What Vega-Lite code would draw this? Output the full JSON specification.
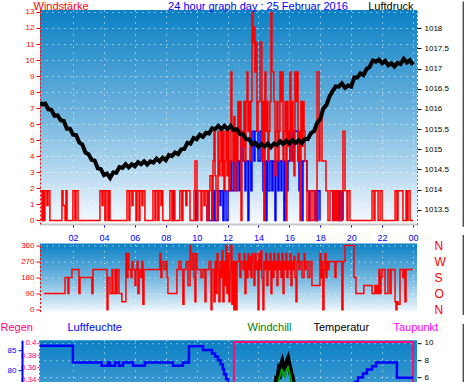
{
"$schema": "https://vega.github.io/schema/vega-lite/v6.json",
"padding": {"left": 0, "top": 0, "right": 0, "bottom": 0},
"background": "white",
"config": {
  "font": "Liberation Sans",
  "view": {"stroke": null},
  "axis": {"labelFont": "Liberation Sans", "titleFont": "Liberation Sans", "titleFontWeight": "normal", "titleFontSize": 11, "labelFontSize": 8, "gridColor": "white", "gridDash": [1, 5], "gridOpacity": 0.9, "labelFlush": false, "labelOverlap": false}
},
"datasets": {
  "edge": [{"h": 27.25}],
  "gust": [
    {"h": -0.14, "g": 1.85}, {"h": -0.01, "g": 0}, {"h": 0.05, "g": 1.85}, {"h": 0.12, "g": 0}, {"h": 0.18, "g": 1.85}, {"h": 0.31, "g": 0.93}, {"h": 0.38, "g": 1.85}, {"h": 0.5, "g": 0},
    {"h": 1.28, "g": 1.85}, {"h": 1.35, "g": 0.93}, {"h": 1.48, "g": 0}, {"h": 1.54, "g": 1.85}, {"h": 1.61, "g": 0}, {"h": 1.99, "g": 1.85}, {"h": 2.12, "g": 0}, {"h": 2.19, "g": 1.85}, {"h": 2.32, "g": 0},
    {"h": 3.74, "g": 1.85}, {"h": 3.87, "g": 0.93}, {"h": 3.94, "g": 1.85}, {"h": 4.06, "g": 0}, {"h": 4.13, "g": 1.85}, {"h": 4.26, "g": 0}, {"h": 4.32, "g": 1.85}, {"h": 4.39, "g": 0},
    {"h": 5.49, "g": 1.85}, {"h": 5.62, "g": 0}, {"h": 5.68, "g": 1.85}, {"h": 5.81, "g": 0.93}, {"h": 5.88, "g": 1.85}, {"h": 6.07, "g": 0}, {"h": 6.14, "g": 1.85}, {"h": 6.27, "g": 0}, {"h": 6.33, "g": 1.85}, {"h": 6.46, "g": 0.93}, {"h": 6.52, "g": 1.85}, {"h": 6.65, "g": 0},
    {"h": 7.17, "g": 1.85}, {"h": 7.3, "g": 0}, {"h": 7.36, "g": 1.85}, {"h": 7.49, "g": 0}, {"h": 7.56, "g": 1.85}, {"h": 7.69, "g": 0.93}, {"h": 7.75, "g": 1.85}, {"h": 7.81, "g": 0},
    {"h": 8.27, "g": 1.85}, {"h": 8.4, "g": 0}, {"h": 8.46, "g": 1.85}, {"h": 8.59, "g": 0}, {"h": 8.91, "g": 1.85}, {"h": 9.04, "g": 0}, {"h": 9.11, "g": 1.85}, {"h": 9.3, "g": 0.93}, {"h": 9.37, "g": 1.85}, {"h": 9.57, "g": 0},
    {"h": 9.83, "g": 1.85}, {"h": 9.89, "g": 3.7}, {"h": 10.02, "g": 0}, {"h": 10.08, "g": 1.85}, {"h": 10.28, "g": 0}, {"h": 10.34, "g": 1.85}, {"h": 10.47, "g": 0.93}, {"h": 10.54, "g": 1.85}, {"h": 10.67, "g": 0}, {"h": 10.74, "g": 1.85},
    {"h": 10.86, "g": 2.78}, {"h": 10.99, "g": 0}, {"h": 11.06, "g": 3.7}, {"h": 11.12, "g": 5.56}, {"h": 11.19, "g": 2.78}, {"h": 11.25, "g": 1.85}, {"h": 11.32, "g": 0}, {"h": 11.38, "g": 5.56}, {"h": 11.44, "g": 2.78}, {"h": 11.51, "g": 3.7},
    {"h": 11.57, "g": 5.56}, {"h": 11.64, "g": 2.78}, {"h": 11.7, "g": 5.56}, {"h": 11.77, "g": 1.85}, {"h": 11.83, "g": 3.7}, {"h": 11.9, "g": 5.56}, {"h": 11.96, "g": 2.78}, {"h": 12.03, "g": 5.56}, {"h": 12.09, "g": 1.85}, {"h": 12.16, "g": 3.7},
    {"h": 12.22, "g": 9.26}, {"h": 12.28, "g": 5.56}, {"h": 12.35, "g": 3.7}, {"h": 12.41, "g": 6.48}, {"h": 12.48, "g": 1.85}, {"h": 12.54, "g": 5.56}, {"h": 12.61, "g": 3.7}, {"h": 12.67, "g": 7.41}, {"h": 12.74, "g": 5.56}, {"h": 12.8, "g": 7.41},
    {"h": 12.87, "g": 0}, {"h": 12.93, "g": 5.56}, {"h": 13.0, "g": 4.63}, {"h": 13.06, "g": 7.41}, {"h": 13.13, "g": 3.7}, {"h": 13.19, "g": 7.41}, {"h": 13.26, "g": 9.26}, {"h": 13.32, "g": 5.56}, {"h": 13.38, "g": 7.41}, {"h": 13.45, "g": 3.7},
    {"h": 13.51, "g": 7.41}, {"h": 13.58, "g": 12.96}, {"h": 13.64, "g": 11.11}, {"h": 13.71, "g": 12.04}, {"h": 13.77, "g": 9.26}, {"h": 13.84, "g": 11.11}, {"h": 13.9, "g": 5.56}, {"h": 13.97, "g": 7.41}, {"h": 14.03, "g": 7.41}, {"h": 14.1, "g": 11.11},
    {"h": 14.22, "g": 3.7}, {"h": 14.29, "g": 7.41}, {"h": 14.35, "g": 0}, {"h": 14.42, "g": 9.26}, {"h": 14.48, "g": 5.56}, {"h": 14.55, "g": 7.41}, {"h": 14.61, "g": 3.7}, {"h": 14.68, "g": 5.56}, {"h": 14.74, "g": 7.41}, {"h": 14.81, "g": 12.96},
    {"h": 14.87, "g": 9.26}, {"h": 15.0, "g": 7.41}, {"h": 15.07, "g": 2.78}, {"h": 15.13, "g": 5.56}, {"h": 15.2, "g": 7.41}, {"h": 15.26, "g": 3.7}, {"h": 15.33, "g": 5.56}, {"h": 15.39, "g": 9.26}, {"h": 15.46, "g": 7.41}, {"h": 15.52, "g": 9.26},
    {"h": 15.59, "g": 3.7}, {"h": 15.65, "g": 5.56}, {"h": 15.72, "g": 7.41}, {"h": 15.78, "g": 0}, {"h": 15.84, "g": 7.41}, {"h": 15.91, "g": 4.63}, {"h": 15.97, "g": 5.56}, {"h": 16.04, "g": 9.26}, {"h": 16.1, "g": 3.7}, {"h": 16.17, "g": 7.41},
    {"h": 16.23, "g": 5.56}, {"h": 16.3, "g": 2.78}, {"h": 16.36, "g": 9.26}, {"h": 16.43, "g": 7.41}, {"h": 16.49, "g": 9.26}, {"h": 16.56, "g": 3.7}, {"h": 16.62, "g": 5.56}, {"h": 16.69, "g": 0}, {"h": 16.75, "g": 7.41}, {"h": 16.82, "g": 4.63},
    {"h": 16.88, "g": 7.41}, {"h": 16.95, "g": 5.56}, {"h": 17.01, "g": 3.7}, {"h": 17.14, "g": 0}, {"h": 17.27, "g": 1.85}, {"h": 17.4, "g": 0}, {"h": 17.53, "g": 1.85}, {"h": 17.66, "g": 0}, {"h": 17.79, "g": 9.26}, {"h": 17.92, "g": 3.7},
    {"h": 17.98, "g": 6.48}, {"h": 18.11, "g": 3.7}, {"h": 18.37, "g": 1.85}, {"h": 18.5, "g": 0}, {"h": 18.63, "g": 1.85}, {"h": 18.82, "g": 0}, {"h": 18.89, "g": 1.85}, {"h": 18.95, "g": 0}, {"h": 19.02, "g": 1.85}, {"h": 19.08, "g": 0},
    {"h": 19.15, "g": 1.85}, {"h": 19.28, "g": 0}, {"h": 19.4, "g": 1.85}, {"h": 19.47, "g": 5.56}, {"h": 19.6, "g": 1.85}, {"h": 19.73, "g": 0}, {"h": 19.79, "g": 1.85}, {"h": 19.92, "g": 0},
    {"h": 21.35, "g": 1.85}, {"h": 21.48, "g": 0}, {"h": 21.54, "g": 1.85}, {"h": 21.74, "g": 0}, {"h": 21.87, "g": 1.85}, {"h": 22.0, "g": 0}, {"h": 22.84, "g": 1.85}, {"h": 22.96, "g": 0}, {"h": 23.03, "g": 1.85}, {"h": 23.35, "g": 0},
    {"h": 23.55, "g": 1.85}, {"h": 23.62, "g": 0}, {"h": 23.68, "g": 1.85}, {"h": 23.81, "g": 0}, {"h": 24.0, "g": 0}
  ],
  "mean": [
    {"s": 1, "h": -0.02, "m": 0}, {"s": 1, "h": 0.05, "m": 1.85}, {"s": 1, "h": 0.12, "m": 0},
    {"s": 2, "h": 8.4, "m": 0}, {"s": 2, "h": 8.46, "m": 1.85}, {"s": 2, "h": 8.53, "m": 0},
    {"s": 3, "h": 9.89, "m": 0}, {"s": 3, "h": 9.95, "m": 1.85}, {"s": 3, "h": 10.02, "m": 0},
    {"s": 4, "h": 10.6, "m": 0}, {"s": 4, "h": 10.67, "m": 0.93}, {"s": 4, "h": 10.74, "m": 1.85}, {"s": 4, "h": 10.8, "m": 0},
    {"s": 4, "h": 10.99, "m": 1.85}, {"s": 4, "h": 11.06, "m": 0}, {"s": 4, "h": 11.12, "m": 1.85}, {"s": 4, "h": 11.19, "m": 0}, {"s": 4, "h": 11.38, "m": 1.85}, {"s": 4, "h": 11.51, "m": 0.93}, {"s": 4, "h": 11.57, "m": 1.85}, {"s": 4, "h": 11.7, "m": 0}, {"s": 4, "h": 11.77, "m": 1.85}, {"s": 4, "h": 11.9, "m": 0},
    {"s": 4, "h": 12.03, "m": 1.85}, {"s": 4, "h": 12.22, "m": 3.7}, {"s": 4, "h": 12.28, "m": 1.85}, {"s": 4, "h": 12.41, "m": 3.7}, {"s": 4, "h": 12.54, "m": 1.85}, {"s": 4, "h": 12.61, "m": 3.7}, {"s": 4, "h": 12.74, "m": 1.85}, {"s": 4, "h": 12.8, "m": 3.7}, {"s": 4, "h": 12.87, "m": 5.56}, {"s": 4, "h": 13.0, "m": 3.7},
    {"s": 4, "h": 13.13, "m": 1.85}, {"s": 4, "h": 13.19, "m": 3.7}, {"s": 4, "h": 13.32, "m": 0}, {"s": 4, "h": 13.38, "m": 3.7}, {"s": 4, "h": 13.51, "m": 1.85}, {"s": 4, "h": 13.58, "m": 5.56}, {"s": 4, "h": 13.71, "m": 3.7}, {"s": 4, "h": 13.77, "m": 5.56}, {"s": 4, "h": 13.97, "m": 3.7}, {"s": 4, "h": 14.1, "m": 5.56},
    {"s": 4, "h": 14.22, "m": 3.7}, {"s": 4, "h": 14.29, "m": 1.85}, {"s": 4, "h": 14.42, "m": 3.7}, {"s": 4, "h": 14.48, "m": 0}, {"s": 4, "h": 14.55, "m": 3.7}, {"s": 4, "h": 14.61, "m": 1.85}, {"s": 4, "h": 14.74, "m": 3.7}, {"s": 4, "h": 14.87, "m": 1.85}, {"s": 4, "h": 14.94, "m": 3.7}, {"s": 4, "h": 15.07, "m": 0},
    {"s": 4, "h": 15.13, "m": 3.7}, {"s": 4, "h": 15.26, "m": 1.85}, {"s": 4, "h": 15.33, "m": 3.7}, {"s": 4, "h": 15.46, "m": 1.85}, {"s": 4, "h": 15.52, "m": 3.7}, {"s": 4, "h": 15.65, "m": 0}, {"s": 4, "h": 15.72, "m": 3.7}, {"s": 4, "h": 15.84, "m": 1.85}, {"s": 4, "h": 15.91, "m": 3.7}, {"s": 4, "h": 16.04, "m": 5.56},
    {"s": 4, "h": 16.23, "m": 3.7}, {"s": 4, "h": 16.3, "m": 5.56}, {"s": 4, "h": 16.56, "m": 3.7}, {"s": 4, "h": 16.62, "m": 1.85}, {"s": 4, "h": 16.69, "m": 3.7}, {"s": 4, "h": 16.82, "m": 0}, {"s": 4, "h": 16.88, "m": 3.7}, {"s": 4, "h": 17.14, "m": 1.85}, {"s": 4, "h": 17.27, "m": 0}, {"s": 4, "h": 17.33, "m": 1.85},
    {"s": 4, "h": 17.66, "m": 0}, {"s": 4, "h": 17.72, "m": 1.85}, {"s": 4, "h": 17.79, "m": 0}, {"s": 4, "h": 17.85, "m": 1.85}, {"s": 4, "h": 17.98, "m": 0},
    {"s": 5, "h": 18.76, "m": 0}, {"s": 5, "h": 18.82, "m": 1.85}, {"s": 5, "h": 18.89, "m": 0},
    {"s": 6, "h": 19.15, "m": 0}, {"s": 6, "h": 19.21, "m": 1.85}, {"s": 6, "h": 19.28, "m": 0}, {"s": 6, "h": 19.4, "m": 1.85}, {"s": 6, "h": 19.47, "m": 0}
  ],
  "press": [
    {"h": -0.14, "p": 1016.16}, {"h": 0.0, "p": 1016.11}, {"h": 0.2, "p": 1016.13}, {"h": 0.4, "p": 1015.99}, {"h": 0.6, "p": 1015.98}, {"h": 0.8, "p": 1015.83}, {"h": 1.0, "p": 1015.84}, {"h": 1.2, "p": 1015.72}, {"h": 1.4, "p": 1015.7}, {"h": 1.6, "p": 1015.51},
    {"h": 1.8, "p": 1015.51}, {"h": 2.0, "p": 1015.36}, {"h": 2.2, "p": 1015.35}, {"h": 2.4, "p": 1015.17}, {"h": 2.6, "p": 1015.12}, {"h": 2.8, "p": 1014.92}, {"h": 3.0, "p": 1014.88}, {"h": 3.2, "p": 1014.74}, {"h": 3.4, "p": 1014.72}, {"h": 3.6, "p": 1014.53},
    {"h": 3.8, "p": 1014.51}, {"h": 4.0, "p": 1014.36}, {"h": 4.2, "p": 1014.4}, {"h": 4.4, "p": 1014.29}, {"h": 4.6, "p": 1014.43}, {"h": 4.8, "p": 1014.42}, {"h": 5.0, "p": 1014.56}, {"h": 5.2, "p": 1014.54}, {"h": 5.4, "p": 1014.63}, {"h": 5.6, "p": 1014.55},
    {"h": 5.8, "p": 1014.63}, {"h": 6.0, "p": 1014.58}, {"h": 6.2, "p": 1014.68}, {"h": 6.4, "p": 1014.63}, {"h": 6.6, "p": 1014.7}, {"h": 6.8, "p": 1014.62}, {"h": 7.0, "p": 1014.7}, {"h": 7.2, "p": 1014.67}, {"h": 7.4, "p": 1014.77}, {"h": 7.6, "p": 1014.7},
    {"h": 7.8, "p": 1014.79}, {"h": 8.0, "p": 1014.73}, {"h": 8.2, "p": 1014.86}, {"h": 8.4, "p": 1014.83}, {"h": 8.6, "p": 1014.92}, {"h": 8.8, "p": 1014.88}, {"h": 9.0, "p": 1015.0}, {"h": 9.2, "p": 1015.01}, {"h": 9.4, "p": 1015.16}, {"h": 9.6, "p": 1015.14},
    {"h": 9.8, "p": 1015.28}, {"h": 10.0, "p": 1015.25}, {"h": 10.2, "p": 1015.36}, {"h": 10.4, "p": 1015.31}, {"h": 10.6, "p": 1015.41}, {"h": 10.8, "p": 1015.39}, {"h": 11.0, "p": 1015.52}, {"h": 11.2, "p": 1015.5}, {"h": 11.4, "p": 1015.58}, {"h": 11.6, "p": 1015.5},
    {"h": 11.8, "p": 1015.58}, {"h": 12.0, "p": 1015.5}, {"h": 12.2, "p": 1015.58}, {"h": 12.4, "p": 1015.48}, {"h": 12.6, "p": 1015.5}, {"h": 12.8, "p": 1015.38}, {"h": 13.0, "p": 1015.37}, {"h": 13.2, "p": 1015.25}, {"h": 13.4, "p": 1015.25}, {"h": 13.6, "p": 1015.12},
    {"h": 13.8, "p": 1015.16}, {"h": 14.0, "p": 1015.06}, {"h": 14.2, "p": 1015.13}, {"h": 14.4, "p": 1015.07}, {"h": 14.6, "p": 1015.14}, {"h": 14.8, "p": 1015.05}, {"h": 15.0, "p": 1015.14}, {"h": 15.2, "p": 1015.11}, {"h": 15.4, "p": 1015.2}, {"h": 15.6, "p": 1015.13},
    {"h": 15.8, "p": 1015.21}, {"h": 16.0, "p": 1015.14}, {"h": 16.2, "p": 1015.23}, {"h": 16.4, "p": 1015.16}, {"h": 16.6, "p": 1015.22}, {"h": 16.8, "p": 1015.15}, {"h": 17.0, "p": 1015.26}, {"h": 17.2, "p": 1015.25}, {"h": 17.4, "p": 1015.4}, {"h": 17.6, "p": 1015.45},
    {"h": 17.8, "p": 1015.66}, {"h": 18.0, "p": 1015.75}, {"h": 18.2, "p": 1016.01}, {"h": 18.4, "p": 1016.1}, {"h": 18.6, "p": 1016.31}, {"h": 18.8, "p": 1016.44}, {"h": 19.0, "p": 1016.56}, {"h": 19.2, "p": 1016.55}, {"h": 19.4, "p": 1016.63}, {"h": 19.6, "p": 1016.52},
    {"h": 19.8, "p": 1016.58}, {"h": 20.0, "p": 1016.55}, {"h": 20.2, "p": 1016.78}, {"h": 20.4, "p": 1016.78}, {"h": 20.6, "p": 1016.88}, {"h": 20.8, "p": 1016.84}, {"h": 21.0, "p": 1016.99}, {"h": 21.2, "p": 1017.04}, {"h": 21.4, "p": 1017.2}, {"h": 21.6, "p": 1017.17},
    {"h": 21.8, "p": 1017.22}, {"h": 22.0, "p": 1017.13}, {"h": 22.2, "p": 1017.19}, {"h": 22.4, "p": 1017.08}, {"h": 22.6, "p": 1017.13}, {"h": 22.8, "p": 1017.05}, {"h": 23.0, "p": 1017.14}, {"h": 23.2, "p": 1017.11}, {"h": 23.4, "p": 1017.24}, {"h": 23.6, "p": 1017.15},
    {"h": 23.8, "p": 1017.21}, {"h": 24.0, "p": 1017.09}
  ],
  "dir": [
    {"h": 0.12, "d": 90}, {"h": 1.48, "d": 180}, {"h": 1.67, "d": 90}, {"h": 1.73, "d": 180}, {"h": 1.93, "d": 225}, {"h": 2.38, "d": 90}, {"h": 2.45, "d": 180}, {"h": 3.22, "d": 90}, {"h": 3.29, "d": 225}, {"h": 4.2, "d": 0},
    {"h": 4.26, "d": 180}, {"h": 4.39, "d": 90}, {"h": 4.52, "d": 225}, {"h": 4.58, "d": 90}, {"h": 4.72, "d": 225}, {"h": 4.78, "d": 90}, {"h": 4.85, "d": 225}, {"h": 4.97, "d": 90}, {"h": 5.16, "d": 45}, {"h": 5.42, "d": 315},
    {"h": 5.49, "d": 180}, {"h": 5.55, "d": 315}, {"h": 5.62, "d": 225}, {"h": 5.75, "d": 180}, {"h": 5.81, "d": 270}, {"h": 5.88, "d": 225}, {"h": 6.01, "d": 135}, {"h": 6.07, "d": 225}, {"h": 6.14, "d": 270}, {"h": 6.2, "d": 90},
    {"h": 6.27, "d": 225}, {"h": 6.39, "d": 180}, {"h": 6.46, "d": 270}, {"h": 6.52, "d": 30}, {"h": 6.59, "d": 225}, {"h": 7.62, "d": 315}, {"h": 7.69, "d": 180}, {"h": 7.75, "d": 270}, {"h": 7.88, "d": 225}, {"h": 8.01, "d": 270},
    {"h": 8.08, "d": 180}, {"h": 8.14, "d": 90}, {"h": 8.72, "d": 225}, {"h": 8.85, "d": 270}, {"h": 8.98, "d": 225}, {"h": 9.11, "d": 30}, {"h": 9.18, "d": 225}, {"h": 9.31, "d": 270}, {"h": 9.44, "d": 135}, {"h": 9.57, "d": 360},
    {"h": 9.63, "d": 225}, {"h": 9.76, "d": 315}, {"h": 9.83, "d": 180}, {"h": 9.89, "d": 45}, {"h": 9.95, "d": 315}, {"h": 10.02, "d": 225}, {"h": 10.28, "d": 180}, {"h": 10.41, "d": 225}, {"h": 10.54, "d": 45}, {"h": 10.6, "d": 225},
    {"h": 10.8, "d": 270}, {"h": 10.93, "d": 0}, {"h": 10.99, "d": 225}, {"h": 11.12, "d": 45}, {"h": 11.19, "d": 270}, {"h": 11.25, "d": 90}, {"h": 11.32, "d": 315}, {"h": 11.38, "d": 225}, {"h": 11.44, "d": 45}, {"h": 11.51, "d": 270},
    {"h": 11.57, "d": 180}, {"h": 11.64, "d": 330}, {"h": 11.7, "d": 45}, {"h": 11.77, "d": 270}, {"h": 11.83, "d": 135}, {"h": 11.9, "d": 360}, {"h": 11.96, "d": 90}, {"h": 12.03, "d": 315}, {"h": 12.09, "d": 45}, {"h": 12.16, "d": 225},
    {"h": 12.22, "d": 360}, {"h": 12.28, "d": 30}, {"h": 12.35, "d": 270}, {"h": 12.41, "d": 0}, {"h": 12.48, "d": 270}, {"h": 12.54, "d": 0}, {"h": 12.61, "d": 270}, {"h": 12.74, "d": 315}, {"h": 12.8, "d": 180}, {"h": 12.87, "d": 270},
    {"h": 13.0, "d": 225}, {"h": 13.06, "d": 315}, {"h": 13.13, "d": 90}, {"h": 13.19, "d": 270}, {"h": 13.26, "d": 180}, {"h": 13.32, "d": 315}, {"h": 13.38, "d": 225}, {"h": 13.45, "d": 300}, {"h": 13.51, "d": 180}, {"h": 13.58, "d": 315},
    {"h": 13.64, "d": 270}, {"h": 13.71, "d": 135}, {"h": 13.77, "d": 315}, {"h": 13.84, "d": 225}, {"h": 13.9, "d": 270}, {"h": 13.97, "d": 0}, {"h": 14.03, "d": 315}, {"h": 14.1, "d": 225}, {"h": 14.16, "d": 330}, {"h": 14.22, "d": 180},
    {"h": 14.29, "d": 0}, {"h": 14.35, "d": 270}, {"h": 14.42, "d": 225}, {"h": 14.48, "d": 315}, {"h": 14.55, "d": 135}, {"h": 14.61, "d": 270}, {"h": 14.68, "d": 225}, {"h": 14.74, "d": 315}, {"h": 14.81, "d": 90}, {"h": 14.87, "d": 270},
    {"h": 14.94, "d": 180}, {"h": 15.0, "d": 315}, {"h": 15.07, "d": 225}, {"h": 15.13, "d": 270}, {"h": 15.2, "d": 135}, {"h": 15.26, "d": 315}, {"h": 15.33, "d": 225}, {"h": 15.39, "d": 270}, {"h": 15.46, "d": 180}, {"h": 15.52, "d": 315},
    {"h": 15.59, "d": 90}, {"h": 15.65, "d": 270}, {"h": 15.72, "d": 225}, {"h": 15.78, "d": 315}, {"h": 15.84, "d": 180}, {"h": 15.91, "d": 270}, {"h": 15.97, "d": 225}, {"h": 16.04, "d": 315}, {"h": 16.1, "d": 135}, {"h": 16.17, "d": 270},
    {"h": 16.23, "d": 225}, {"h": 16.3, "d": 300}, {"h": 16.36, "d": 180}, {"h": 16.43, "d": 45}, {"h": 16.49, "d": 270}, {"h": 16.56, "d": 315}, {"h": 16.62, "d": 225}, {"h": 16.69, "d": 270}, {"h": 16.82, "d": 180}, {"h": 16.95, "d": 315},
    {"h": 17.01, "d": 225}, {"h": 17.08, "d": 270}, {"h": 17.2, "d": 180}, {"h": 17.33, "d": 270}, {"h": 17.46, "d": 135}, {"h": 17.98, "d": 315}, {"h": 18.05, "d": 180}, {"h": 18.11, "d": 270}, {"h": 18.17, "d": 0}, {"h": 18.24, "d": 225},
    {"h": 18.3, "d": 315}, {"h": 18.37, "d": 180}, {"h": 18.43, "d": 270}, {"h": 18.5, "d": 225}, {"h": 18.56, "d": 270}, {"h": 18.95, "d": 180}, {"h": 19.02, "d": 270}, {"h": 19.4, "d": 0}, {"h": 19.47, "d": 270}, {"h": 19.6, "d": 360},
    {"h": 20.18, "d": 180}, {"h": 20.31, "d": 90}, {"h": 20.82, "d": 135}, {"h": 21.35, "d": 90}, {"h": 21.54, "d": 135}, {"h": 21.61, "d": 90}, {"h": 21.68, "d": 135}, {"h": 21.74, "d": 90}, {"h": 21.8, "d": 225}, {"h": 21.87, "d": 90},
    {"h": 21.93, "d": 180}, {"h": 22.0, "d": 225}, {"h": 22.19, "d": 90}, {"h": 22.38, "d": 225}, {"h": 22.51, "d": 90}, {"h": 22.58, "d": 225}, {"h": 22.84, "d": 45}, {"h": 22.9, "d": 0}, {"h": 22.96, "d": 45}, {"h": 23.03, "d": 30},
    {"h": 23.16, "d": 225}, {"h": 23.35, "d": 180}, {"h": 23.42, "d": 225}, {"h": 23.48, "d": 45}, {"h": 23.55, "d": 225}, {"h": 24.0, "d": 225}
  ],
  "hum": [
    {"h": -0.14, "rh": 86.1}, {"h": 1.99, "rh": 81.9}, {"h": 3.85, "rh": 81.1}, {"h": 4.26, "rh": 81.9}, {"h": 4.39, "rh": 81.1}, {"h": 4.72, "rh": 81.9}, {"h": 4.97, "rh": 81.1}, {"h": 5.23, "rh": 81.9}, {"h": 5.88, "rh": 81.1}, {"h": 6.65, "rh": 81.9},
    {"h": 8.46, "rh": 81.1}, {"h": 9.11, "rh": 81.9}, {"h": 9.5, "rh": 86.0}, {"h": 10.41, "rh": 85.05}, {"h": 10.99, "rh": 84.2}, {"h": 11.19, "rh": 83.4}, {"h": 11.38, "rh": 82.5}, {"h": 11.55, "rh": 81.5}, {"h": 11.68, "rh": 80.3}, {"h": 11.77, "rh": 79.0},
    {"h": 11.9, "rh": 77.8}, {"h": 12.03, "rh": 70}, {"h": 20.25, "rh": 77.1}, {"h": 20.44, "rh": 78.2}, {"h": 20.76, "rh": 79.2}, {"h": 21.02, "rh": 80.2}, {"h": 21.35, "rh": 81.0}, {"h": 21.61, "rh": 81.9}, {"h": 22.96, "rh": 78.1}, {"h": 24.0, "rh": 78.1}
  ],
  "rain": [
    {"h": -0.14, "r": 0.3}, {"h": 12.41, "r": 0.4015}, {"h": 24.0, "r": 0.3}
  ],
  "temp": [
    {"h": 14.9, "t": 4.8, "wc": 4.2}, {"h": 15.13, "t": 5.2, "wc": 4.6}, {"h": 15.2, "t": 6.2, "wc": 5.2}, {"h": 15.26, "t": 5.8, "wc": 5.3}, {"h": 15.33, "t": 6.8, "wc": 5.9}, {"h": 15.39, "t": 6.6, "wc": 6.2}, {"h": 15.46, "t": 7.4, "wc": 6.6}, {"h": 15.52, "t": 7.7, "wc": 7.0},
    {"h": 15.59, "t": 7.0, "wc": 6.4}, {"h": 15.65, "t": 7.2, "wc": 6.3}, {"h": 15.72, "t": 6.8, "wc": 6.1}, {"h": 15.78, "t": 7.5, "wc": 6.7}, {"h": 15.84, "t": 7.8, "wc": 7.0}, {"h": 15.91, "t": 8.1, "wc": 7.2}, {"h": 15.97, "t": 7.5, "wc": 6.8},
    {"h": 16.04, "t": 7.1, "wc": 6.3}, {"h": 16.1, "t": 6.4, "wc": 5.8}, {"h": 16.17, "t": 6.2, "wc": 5.3}, {"h": 16.23, "t": 5.5, "wc": 4.9}, {"h": 16.36, "t": 5.0, "wc": 4.3}, {"h": 16.6, "t": 4.6, "wc": 4.0}
  ]
},
"spacing": 4.6,
"vconcat": [
  {
    "width": 377, "height": 214,
    "view": {"fill": {"gradient": "linear", "x1": 0, "y1": 0, "x2": 0, "y2": 1, "stops": [{"offset": 0, "color": "#0b80c4"}, {"offset": 0.5, "color": "#72b6df"}, {"offset": 1, "color": "#f8fbff"}]}},
    "resolve": {"scale": {"y": "independent"}},
    "encoding": {
      "x": {"field": "h", "type": "quantitative", "scale": {"domain": [-0.14, 24.26], "nice": false, "zero": false},
        "axis": {"orient": "bottom", "values": [2, 4, 6, 8, 10, 12, 14, 16, 18, 20, 22, 24], "labels": false, "ticks": true, "tickColor": "#0000ff", "tickSize": 3, "domainColor": "#c8c8c8", "domainWidth": 2, "grid": true,
          "title": "24 hour graph day : 25 Februar 2016", "titleColor": "#0000ff", "titleAngle": 0, "titleAlign": "center", "titleBaseline": "alphabetic", "titleX": 217.5, "titleY": -214.5}}
    },
    "layer": [
      {"data": {"name": "mean"}, "mark": {"type": "line", "interpolate": "step-after", "color": "#0000ff", "strokeWidth": 1.5, "clip": true},
        "encoding": {"detail": {"field": "s", "type": "nominal"}, "y": {"field": "m", "type": "quantitative", "scale": {"domain": [-0.22, 13.12], "nice": false, "zero": false}, "axis": null}}},
      {"data": {"name": "gust"}, "mark": {"type": "line", "interpolate": "step-after", "color": "#ff0000", "strokeWidth": 1.5, "clip": true},
        "encoding": {"y": {"field": "g", "type": "quantitative", "scale": {"domain": [-0.22, 13.12], "nice": false, "zero": false},
          "axis": {"orient": "left", "values": [0, 1, 2, 3, 4, 5, 6, 7, 8, 9, 10, 11, 12, 13], "labelColor": "#ff0000", "tickColor": "#ff0000", "domainColor": "#ff0000", "domainDash": [2, 2], "tickSize": 4, "labelPadding": 2, "grid": true,
            "title": "Windstärke", "titleColor": "#ff0000", "titleAngle": 0, "titleAlign": "left", "titleBaseline": "alphabetic", "titleX": -7, "titleY": -0.5}}}},
      {"data": {"name": "press"}, "mark": {"type": "line", "color": "#000000", "strokeWidth": 4, "clip": true},
        "encoding": {"y": {"field": "p", "type": "quantitative", "scale": {"domain": [1013.15, 1018.45], "nice": false, "zero": false},
          "axis": {"orient": "right", "values": [1013.5, 1014, 1014.5, 1015, 1015.5, 1016, 1016.5, 1017, 1017.5, 1018], "format": ".1~f", "labelColor": "#000000", "tickColor": "#000000", "tickSize": 4, "labelPadding": 3, "domainColor": "#000000", "domainDash": [1, 3], "grid": false,
            "title": "Luftdruck", "titleColor": "#000000", "titleAngle": 0, "titleAlign": "right", "titleBaseline": "alphabetic", "titleX": -4, "titleY": -0.5}}}},
      {"data": {"name": "edge"}, "mark": {"type": "rule", "color": "#000000", "strokeWidth": 1},
        "encoding": {"y": {"datum": 1018.66, "type": "quantitative", "scale": {"domain": [1013.15, 1018.45], "nice": false, "zero": false}, "axis": null}, "y2": {"datum": 1013.08}}}
    ]
  },
  {
    "width": 377, "height": 68,
    "view": {"fill": {"gradient": "linear", "x1": 0, "y1": 0, "x2": 0, "y2": 1, "stops": [{"offset": 0, "color": "#0b80c4"}, {"offset": 0.5, "color": "#72b6df"}, {"offset": 1, "color": "#f0f7fc"}]}},
    "resolve": {"scale": {"y": "independent"}},
    "encoding": {
      "x": {"field": "h", "type": "quantitative", "scale": {"domain": [-0.14, 24.26], "nice": false, "zero": false},
        "axis": {"orient": "top", "values": [2, 4, 6, 8, 10, 12, 14, 16, 18, 20, 22, 24], "labelExpr": "datum.value == 24 ? '00' : (datum.value < 10 ? '0' + datum.value : '' + datum.value)", "labelColor": "#0000ff", "labelFontSize": 9, "ticks": false, "domain": false, "labelPadding": 1.4, "grid": true, "title": null}}
    },
    "layer": [
      {"data": {"name": "dir"}, "mark": {"type": "line", "interpolate": "step-after", "color": "#ff0000", "strokeWidth": 1.5, "clip": true},
        "encoding": {"y": {"field": "d", "type": "quantitative", "scale": {"domain": [-11, 371], "nice": false, "zero": false},
          "axis": {"orient": "left", "values": [0, 90, 180, 270, 360], "labelColor": "#ff0000", "tickColor": "#ff0000", "domainColor": "#ff0000", "domainDash": [2, 2], "tickSize": 4, "labelPadding": 2, "grid": true, "title": null}}}},
      {"data": {"name": "dir"}, "mark": {"type": "line", "opacity": 0},
        "encoding": {"y": {"field": "d", "type": "quantitative", "scale": {"domain": [-11, 371], "nice": false, "zero": false},
          "axis": {"orient": "right", "values": [0, 90, 180, 270, 360], "labelExpr": "datum.value == 360 || datum.value == 0 ? 'N' : datum.value == 270 ? 'W' : datum.value == 180 ? 'S' : 'O'", "labelColor": "#ff0000", "labelFontSize": 12, "ticks": false, "domain": false, "labelPadding": 17, "grid": false, "title": null}}}},
      {"data": {"name": "edge"}, "mark": {"type": "rule", "color": "#000000", "strokeWidth": 1},
        "encoding": {"y": {"datum": 420, "type": "quantitative", "scale": {"domain": [-11, 371], "nice": false, "zero": false}, "axis": null}, "y2": {"datum": -30}}}
    ]
  },
  {
    "width": 377, "height": 42,
    "view": {"fill": {"gradient": "linear", "x1": 0, "y1": 0, "x2": 0, "y2": 1, "stops": [{"offset": 0, "color": "#0b80c4"}, {"offset": 1, "color": "#3898d0"}]}},
    "resolve": {"scale": {"y": "independent"}},
    "encoding": {
      "x": {"field": "h", "type": "quantitative", "scale": {"domain": [-0.14, 24.26], "nice": false, "zero": false},
        "axis": {"orient": "bottom", "values": [2, 4, 6, 8, 10, 12, 14, 16, 18, 20, 22, 24], "labels": false, "ticks": false, "domain": false, "grid": true,
          "title": "Taupunkt", "titleColor": "#ff00ff", "titleAngle": 0, "titleAlign": "left", "titleBaseline": "alphabetic", "titleX": 353, "titleY": -51.5}}
    },
    "layer": [
      {"data": {"name": "rain"}, "mark": {"type": "line", "interpolate": "step-after", "color": "#ff0a78", "strokeWidth": 2, "clip": true},
        "encoding": {"y": {"field": "r", "type": "quantitative", "scale": {"domain": [0.3355, 0.4044], "nice": false, "zero": false},
          "axis": {"orient": "left", "offset": 1, "values": [0.34, 0.36, 0.38, 0.4], "format": ".2~f", "labelColor": "#ff0080", "tickColor": "#ff0080", "domainColor": "#ff0080", "domainDash": [2, 2], "tickSize": 2, "labelPadding": 1, "grid": false,
            "title": "Regen", "titleColor": "#ff0080", "titleAngle": 0, "titleAlign": "left", "titleBaseline": "alphabetic", "titleX": -39, "titleY": -9.5}}}},
      {"data": {"name": "hum"}, "mark": {"type": "line", "interpolate": "step-after", "color": "#0000ff", "strokeWidth": 2.5, "clip": true},
        "encoding": {"y": {"field": "rh", "type": "quantitative", "scale": {"domain": [77, 87.5], "nice": false, "zero": false},
          "axis": {"orient": "left", "offset": 18, "values": [80, 85], "labelColor": "#0000ff", "tickColor": "#0000ff", "domainColor": "#0000ff", "domainWidth": 2, "tickSize": 4, "labelPadding": 2, "grid": false,
            "title": "Luftfeuchte", "titleColor": "#0000ff", "titleAngle": 0, "titleAlign": "left", "titleBaseline": "alphabetic", "titleX": 45, "titleY": -9.5}}}},
      {"data": {"name": "temp"}, "mark": {"type": "line", "color": "#000000", "strokeWidth": 5, "clip": true},
        "encoding": {"y": {"field": "t", "type": "quantitative", "scale": {"domain": [5.46, 10.31], "nice": false, "zero": false},
          "axis": {"orient": "right", "values": [6, 8, 10], "labelColor": "#000000", "tickColor": "#000000", "tickSize": 4, "labelPadding": 3, "domain": false, "grid": true,
            "title": "Temperatur", "titleColor": "#000000", "titleAngle": 0, "titleAlign": "left", "titleBaseline": "alphabetic", "titleX": -104, "titleY": -9.5}}}},
      {"data": {"name": "temp"}, "mark": {"type": "line", "color": "#00a000", "strokeWidth": 2, "clip": true},
        "encoding": {"y": {"field": "wc", "type": "quantitative", "scale": {"domain": [5.46, 10.31], "nice": false, "zero": false},
          "axis": {"orient": "right", "labels": false, "ticks": false, "domain": false, "grid": false,
            "title": "Windchill", "titleColor": "#008000", "titleAngle": 0, "titleAlign": "left", "titleBaseline": "alphabetic", "titleX": -170, "titleY": -9.5}}}},
      {"data": {"name": "edge"}, "mark": {"type": "rule", "color": "#000000", "strokeWidth": 1},
        "encoding": {"y": {"datum": 12.2, "type": "quantitative", "scale": {"domain": [5.46, 10.31], "nice": false, "zero": false}, "axis": null}, "y2": {"datum": 5.46}}}
    ]
  }
]
}
